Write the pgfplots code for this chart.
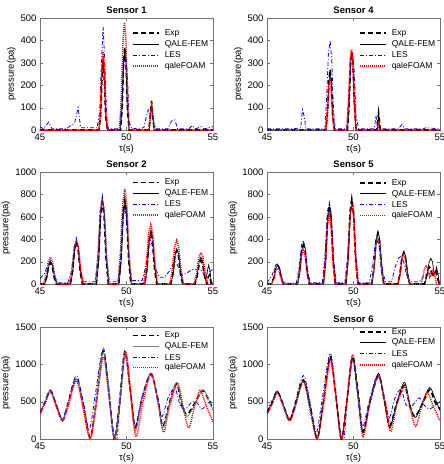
\documentclass[border=0pt]{standalone}
\usepackage{fontspec}
\setmainfont{Liberation Sans}
\usepackage{pgfplots}
\pgfplotsset{compat=1.18}
\tikzset{
  exp/.style={color=black, line width=1.6pt, dash pattern=on 5pt off 3pt},
  qale/.style={color=black, line width=0.7pt},
  qaleg/.style={color=gray, line width=0.8pt},
  les/.style={color=blue, line width=0.8pt, dash pattern=on 4pt off 2pt on 1pt off 2pt},
  foam/.style={color=red, line width=1.5pt, dash pattern=on 1pt off 1pt},
  lg/.style={anchor=west, inner sep=0pt, font=\fontsize{8.5}{9.5}\selectfont},
}
\pgfplotsset{
  sensor/.style={scale only axis, width=173pt, height=112pt,
    xmin=45, xmax=55, ymin=0, xtick={45,50,55},
    tick align=inside, axis line style={color=black!55}, tick style={color=black!55},
    major tick length=3pt,
    ticklabel style={font=\fontsize{9.5}{10}\selectfont},
    /pgf/number format/assume math mode=true,
    /pgf/number format/set thousands separator={},
    xlabel={τ(s)}, ylabel={pressure(pa)},
    label style={font=\fontsize{9.5}{10}\selectfont},
    xlabel style={yshift=3pt}, ylabel style={yshift=-2pt},
    title style={font=\bfseries\fontsize{9.5}{10}\selectfont, yshift=-5pt},
    scaled y ticks=false, clip=true},
}
% legend key: #1-#4 row heights (fraction of axis height), #5 style of the QALE-FEM line
\newcommand{\sensorlegend}[5]{%
  \draw[exp] (rel axis cs:0.54,#1) -- (rel axis cs:0.69,#1);
  \node[lg] at (rel axis cs:0.72,#1) {Exp};
  \draw[#5] (rel axis cs:0.54,#2) -- (rel axis cs:0.69,#2);
  \node[lg] at (rel axis cs:0.72,#2) {QALE-FEM};
  \draw[les] (rel axis cs:0.54,#3) -- (rel axis cs:0.69,#3);
  \node[lg] at (rel axis cs:0.72,#3) {LES};
  \draw[foam] (rel axis cs:0.54,#4) -- (rel axis cs:0.69,#4);
  \node[lg] at (rel axis cs:0.72,#4) {qaleFOAM};}
\begin{document}
\begin{tikzpicture}
\useasboundingbox (0,0) rectangle (444pt,-464pt);
% ---------------- Sensor 1
\begin{axis}[sensor, at={(40pt,-130pt)}, anchor=south west, ymax=500, ytick={0,100,...,500}, title={Sensor 1}]
\addplot[exp] coordinates {(45,0)(48.4,0)(48.5,60)(48.58,220)(48.65,310)(48.72,220)(48.8,60)(48.9,0)(49.65,0)(49.75,100)(49.83,300)(49.9,370)(49.97,300)(50.05,100)(50.15,0)(51.3,0)(51.37,60)(51.45,130)(51.52,60)(51.6,0)(55,0)};
\addplot[qale] coordinates {(45,0)(48.4,0)(48.5,70)(48.58,250)(48.65,330)(48.72,240)(48.8,60)(48.9,0)(49.65,0)(49.75,110)(49.83,300)(49.9,360)(49.97,300)(50.05,110)(50.15,0)(51.32,0)(51.38,60)(51.45,120)(51.52,60)(51.6,0)(55,0)};
\addplot[les] coordinates {(45,15)(45.2,5)(45.5,35)(45.7,5)(46.5,5)(47,30)(47.2,100)(47.35,10)(47.8,10)(48.3,10)(48.45,80)(48.55,300)(48.65,460)(48.75,300)(48.85,60)(48.95,5)(49.6,5)(49.75,150)(49.85,300)(49.95,330)(50.05,250)(50.15,40)(50.3,5)(51,10)(51.15,60)(51.25,90)(51.35,60)(51.45,90)(51.55,40)(51.7,5)(52.4,5)(52.6,40)(52.8,45)(52.95,5)(53.6,5)(53.8,20)(54,5)(54.3,15)(54.5,5)(55,15)};
\addplot[foam] coordinates {(45,0)(48.4,0)(48.5,100)(48.58,280)(48.65,350)(48.72,280)(48.8,80)(48.9,0)(49.6,0)(49.7,150)(49.8,400)(49.88,480)(49.96,420)(50.05,200)(50.15,0)(51.3,0)(51.38,70)(51.46,110)(51.54,60)(51.62,0)(55,0)};
\sensorlegend{0.866}{0.768}{0.670}{0.572}{qale}
\end{axis}
% ---------------- Sensor 4
\begin{axis}[sensor, at={(267pt,-130pt)}, anchor=south west, ymax=500, ytick={0,100,...,500}, title={Sensor 4}]
\addplot[exp] coordinates {(45,0)(48.4,0)(48.5,80)(48.58,220)(48.65,270)(48.72,220)(48.8,70)(48.9,0)(49.65,0)(49.75,120)(49.83,300)(49.9,350)(49.97,300)(50.05,120)(50.15,0)(51.35,0)(51.45,75)(51.55,0)(55,0)};
\addplot[qale] coordinates {(45,0)(48.4,0)(48.5,70)(48.58,210)(48.65,260)(48.72,210)(48.8,60)(48.9,0)(49.65,0)(49.75,110)(49.83,290)(49.9,340)(49.97,290)(50.05,110)(50.15,0)(51.38,0)(51.45,75)(51.52,0)(55,0)};
\addplot[les] coordinates {(45,5)(46.5,5)(46.95,10)(47.05,90)(47.15,60)(47.25,5)(48.35,5)(48.45,150)(48.55,340)(48.65,400)(48.75,300)(48.85,80)(48.95,5)(49.6,5)(49.72,150)(49.85,320)(49.95,340)(50.05,250)(50.15,60)(50.3,5)(51.2,5)(51.3,65)(51.4,5)(52.6,5)(52.8,25)(52.95,5)(54,5)(54.2,10)(55,5)};
\addplot[foam] coordinates {(45,0)(48.4,0)(48.48,80)(48.56,190)(48.63,220)(48.7,190)(48.78,60)(48.88,0)(49.62,0)(49.72,140)(49.8,320)(49.88,360)(49.96,320)(50.04,140)(50.14,0)(51.4,0)(51.46,40)(51.52,0)(55,0)};
\sensorlegend{0.866}{0.768}{0.670}{0.572}{qale}
\end{axis}
% ---------------- Sensor 2
\begin{axis}[sensor, at={(40pt,-284pt)}, anchor=south west, ymax=1000, ytick={0,200,...,1000}, title={Sensor 2}]
\addplot[exp] coordinates {(45,0)(45.25,0)(45.38,57)(45.5,162)(45.6,190)(45.7,162)(45.82,57)(45.95,0)(46.75,0)(46.88,111)(47.0,315)(47.1,370)(47.2,315)(47.32,111)(47.45,0)(48.25,0)(48.38,219)(48.5,620)(48.6,730)(48.7,620)(48.82,219)(48.95,0)(49.55,0)(49.68,225)(49.8,638)(49.9,750)(50.0,638)(50.12,225)(50.25,0)(51.05,0)(51.18,135)(51.3,383)(51.4,450)(51.5,383)(51.62,135)(51.75,0)(52.55,0)(52.68,90)(52.8,255)(52.9,300)(53.0,255)(53.12,90)(53.25,0)(53.95,0)(54.08,63)(54.2,179)(54.3,210)(54.4,179)(54.52,63)(54.65,0)(54.72,60)(54.8,80)(54.9,0)(55,0)};
\addplot[qale] coordinates {(45,0)(45.27,0)(45.4,60)(45.52,170)(45.62,200)(45.72,170)(45.84,60)(45.97,0)(46.77,0)(46.9,114)(47.02,323)(47.12,380)(47.22,323)(47.34,114)(47.47,0)(48.27,0)(48.4,225)(48.52,638)(48.62,750)(48.72,638)(48.84,225)(48.97,0)(49.57,0)(49.7,222)(49.82,629)(49.92,740)(50.02,629)(50.14,222)(50.27,0)(51.07,0)(51.2,144)(51.32,408)(51.42,480)(51.52,408)(51.64,144)(51.77,0)(52.57,0)(52.7,93)(52.82,264)(52.92,310)(53.02,264)(53.14,93)(53.27,0)(53.95,0)(54.08,72)(54.2,204)(54.3,240)(54.4,204)(54.5,80)(54.58,30)(54.68,120)(54.75,170)(54.82,120)(54.9,20)(55,0)};
\addplot[les] coordinates {(45,50)(45.25,90)(45.4,150)(45.6,210)(45.75,150)(45.9,40)(46.1,10)(46.6,10)(46.8,100)(47.0,340)(47.1,410)(47.2,340)(47.35,120)(47.5,20)(48.2,20)(48.35,250)(48.5,680)(48.6,790)(48.7,660)(48.85,220)(49.0,20)(49.5,20)(49.65,200)(49.8,580)(49.9,680)(50.0,580)(50.15,200)(50.3,30)(50.9,30)(51.1,150)(51.3,350)(51.4,390)(51.5,340)(51.7,130)(51.9,60)(52.2,60)(52.5,120)(52.7,180)(52.85,200)(53.0,150)(53.2,80)(53.5,100)(53.8,130)(54.1,130)(54.3,130)(54.5,80)(54.7,100)(55,130)};
\addplot[foam] coordinates {(45,0)(45.2,0)(45.35,80)(45.48,200)(45.6,240)(45.72,200)(45.85,80)(46.0,0)(46.7,0)(46.85,130)(46.98,330)(47.1,390)(47.22,330)(47.35,130)(47.5,0)(48.2,0)(48.35,250)(48.48,650)(48.6,760)(48.72,650)(48.85,250)(49.0,0)(49.5,0)(49.65,280)(49.78,720)(49.9,850)(50.02,720)(50.15,280)(50.3,0)(51.0,0)(51.15,180)(51.28,450)(51.4,530)(51.52,450)(51.65,180)(51.8,0)(52.5,0)(52.65,130)(52.78,330)(52.9,390)(53.02,330)(53.15,130)(53.3,0)(53.9,0)(54.05,90)(54.18,240)(54.3,280)(54.42,240)(54.55,90)(54.7,0)(55,0)};
\sensorlegend{0.905}{0.81}{0.715}{0.615}{qale}
\end{axis}
% ---------------- Sensor 5
\begin{axis}[sensor, at={(267pt,-284pt)}, anchor=south west, ymax=1000, ytick={0,200,...,1000}, title={Sensor 5}]
\addplot[exp] coordinates {(45,0)(45.25,0)(45.38,51)(45.5,145)(45.6,170)(45.7,145)(45.82,51)(45.95,0)(46.75,0)(46.88,105)(47.0,298)(47.1,350)(47.2,298)(47.32,105)(47.45,0)(48.25,0)(48.38,210)(48.5,595)(48.6,700)(48.7,595)(48.82,210)(48.95,0)(49.55,0)(49.68,228)(49.8,646)(49.9,760)(50.0,646)(50.12,228)(50.25,0)(51.05,0)(51.18,135)(51.3,383)(51.4,450)(51.5,383)(51.62,135)(51.75,0)(52.55,0)(52.68,84)(52.8,238)(52.9,280)(53.0,238)(53.12,84)(53.25,0)(54.1,0)(54.2,60)(54.3,130)(54.4,150)(54.5,110)(54.58,60)(54.65,100)(54.75,130)(54.85,60)(54.95,0)(55,0)};
\addplot[qale] coordinates {(45,0)(45.27,0)(45.4,51)(45.52,145)(45.62,170)(45.72,145)(45.84,51)(45.97,0)(46.77,0)(46.9,108)(47.02,306)(47.12,360)(47.22,306)(47.34,108)(47.47,0)(48.27,0)(48.4,207)(48.52,587)(48.62,690)(48.72,587)(48.84,207)(48.97,0)(49.57,0)(49.7,222)(49.82,629)(49.92,740)(50.02,629)(50.14,222)(50.27,0)(51.07,0)(51.2,141)(51.32,400)(51.42,470)(51.52,400)(51.64,141)(51.77,0)(52.57,0)(52.7,87)(52.82,247)(52.92,290)(53.02,247)(53.14,87)(53.27,0)(54.12,0)(54.25,69)(54.37,196)(54.47,230)(54.57,196)(54.65,100)(54.72,90)(54.8,150)(54.88,90)(54.97,0)(55,0)};
\addplot[les] coordinates {(45,10)(45.3,80)(45.5,170)(45.6,180)(45.75,130)(45.9,30)(46.1,5)(46.7,10)(46.85,150)(47.0,350)(47.1,390)(47.2,330)(47.35,120)(47.5,10)(48.2,10)(48.35,250)(48.5,650)(48.6,730)(48.7,640)(48.85,230)(49.0,10)(49.5,10)(49.65,220)(49.8,600)(49.9,700)(50.0,610)(50.15,220)(50.3,10)(50.9,10)(51.05,120)(51.25,350)(51.4,380)(51.55,300)(51.7,100)(51.85,20)(52.2,20)(52.4,150)(52.6,230)(52.75,250)(52.9,200)(53.1,60)(53.3,20)(53.8,20)(54.1,80)(54.3,100)(54.5,90)(54.7,70)(55,100)};
\addplot[foam] coordinates {(45,0)(45.25,0)(45.38,42)(45.5,119)(45.6,140)(45.7,119)(45.82,42)(45.95,0)(46.75,0)(46.88,90)(47.0,255)(47.1,300)(47.2,255)(47.32,90)(47.45,0)(48.25,0)(48.38,186)(48.5,527)(48.6,620)(48.7,527)(48.82,186)(48.95,0)(49.55,0)(49.68,216)(49.8,612)(49.9,720)(50.0,612)(50.12,216)(50.25,0)(51.05,0)(51.18,126)(51.3,357)(51.4,420)(51.5,357)(51.62,126)(51.75,0)(52.55,0)(52.68,81)(52.8,230)(52.9,270)(53.0,230)(53.12,81)(53.25,0)(53.9,0)(54.0,50)(54.1,136)(54.2,160)(54.3,136)(54.4,60)(54.5,80)(54.6,120)(54.7,80)(54.8,0)(55,0)};
\sensorlegend{0.9}{0.805}{0.71}{0.61}{qale}
\end{axis}
% ---------------- Sensor 3
\begin{axis}[sensor, at={(40pt,-439pt)}, anchor=south west, ymax=1500, ytick={0,500,1000,1500}, title={Sensor 3}]
\addplot[exp, smooth] coordinates {(45,350)(45.3,500)(45.6,650)(45.95,450)(46.3,250)(46.6,450)(47.1,820)(47.5,450)(47.9,20)(48.25,500)(48.65,1180)(48.95,700)(49.3,10)(49.6,500)(49.9,1170)(50.2,700)(50.5,150)(50.9,550)(51.4,870)(51.8,550)(52.1,170)(52.5,500)(52.9,740)(53.2,450)(53.5,330)(54.0,500)(54.4,650)(54.7,550)(55,400)};
\addplot[qaleg, smooth] coordinates {(45,350)(45.3,500)(45.6,660)(45.95,450)(46.3,260)(46.6,450)(47.1,810)(47.5,430)(47.9,10)(48.25,500)(48.65,1160)(48.95,700)(49.3,0)(49.6,500)(49.9,1160)(50.2,650)(50.5,100)(50.9,550)(51.4,880)(51.8,500)(52.1,150)(52.5,480)(52.9,760)(53.2,480)(53.5,300)(54.0,480)(54.4,660)(54.7,560)(55,380)};
\addplot[les, smooth] coordinates {(45,350)(45.3,500)(45.6,660)(45.95,450)(46.3,260)(46.6,480)(47.1,850)(47.5,500)(47.85,130)(48.2,600)(48.65,1220)(48.95,700)(49.25,0)(49.45,0)(49.6,400)(49.9,1150)(50.2,700)(50.5,180)(50.9,550)(51.4,880)(51.8,550)(52.05,300)(52.4,550)(52.8,680)(53.1,450)(53.4,400)(53.8,500)(54.1,480)(54.35,400)(54.7,480)(55,520)};
\addplot[foam, smooth] coordinates {(45,330)(45.3,480)(45.6,630)(45.95,430)(46.3,240)(46.6,420)(47.1,780)(47.5,400)(47.9,0)(48.25,450)(48.65,1100)(48.95,650)(49.3,0)(49.6,450)(49.95,1160)(50.25,600)(50.55,30)(50.95,500)(51.45,880)(51.85,450)(52.15,90)(52.5,450)(52.95,750)(53.3,400)(53.6,150)(53.9,400)(54.25,650)(54.6,450)(55,230)};
\sensorlegend{0.925}{0.83}{0.73}{0.64}{qaleg}
\end{axis}
% ---------------- Sensor 6
\begin{axis}[sensor, at={(267pt,-439pt)}, anchor=south west, ymax=1500, ytick={0,500,1000,1500}, title={Sensor 6}]
\addplot[exp, smooth] coordinates {(45,350)(45.3,480)(45.6,630)(45.95,450)(46.3,250)(46.6,430)(47.1,790)(47.5,430)(47.9,10)(48.25,480)(48.65,1100)(48.95,650)(49.3,0)(49.6,480)(49.95,1100)(50.25,650)(50.55,100)(50.95,500)(51.45,850)(51.8,500)(52.1,180)(52.5,480)(52.95,720)(53.25,450)(53.55,300)(54.0,480)(54.4,660)(54.7,500)(55,400)};
\addplot[qale, smooth] coordinates {(45,350)(45.3,490)(45.6,640)(45.95,450)(46.3,250)(46.6,430)(47.1,780)(47.5,420)(47.9,0)(48.25,480)(48.65,1080)(48.95,650)(49.3,0)(49.6,480)(49.95,1080)(50.25,620)(50.55,80)(50.95,500)(51.45,880)(51.8,480)(52.1,150)(52.5,480)(52.95,760)(53.3,420)(53.6,290)(54.0,500)(54.4,690)(54.7,550)(55,380)};
\addplot[les, smooth] coordinates {(45,370)(45.3,520)(45.6,650)(45.95,450)(46.3,260)(46.6,470)(47.1,850)(47.5,480)(47.85,80)(48.2,550)(48.65,1150)(48.95,650)(49.25,0)(49.45,0)(49.6,400)(49.9,1100)(50.2,650)(50.5,150)(50.9,500)(51.4,860)(51.8,550)(52.05,280)(52.4,550)(52.75,660)(53.05,450)(53.4,450)(53.8,550)(54.1,450)(54.4,400)(54.7,450)(55,500)};
\addplot[foam, smooth] coordinates {(45,330)(45.3,470)(45.6,620)(45.95,430)(46.3,240)(46.6,400)(47.1,770)(47.5,380)(47.9,0)(48.25,450)(48.65,1060)(48.95,620)(49.3,0)(49.6,480)(49.95,1130)(50.25,600)(50.55,30)(50.95,480)(51.45,840)(51.85,450)(52.15,100)(52.5,450)(52.95,700)(53.3,380)(53.6,170)(53.9,400)(54.25,620)(54.6,450)(55,240)};
\sensorlegend{0.955}{0.86}{0.765}{0.66}{qale}
\end{axis}
\end{tikzpicture}
\end{document}
